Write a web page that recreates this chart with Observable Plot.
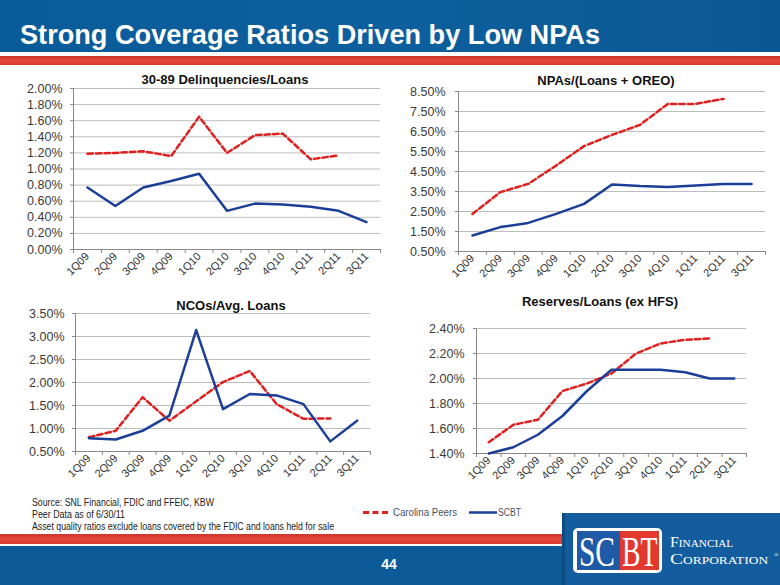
<!DOCTYPE html>
<html><head><meta charset="utf-8">
<script src="https://cdn.jsdelivr.net/npm/d3@7"></script>
<script src="https://cdn.jsdelivr.net/npm/@observablehq/plot@0.6"></script>
<style>
body{margin:0;background:#fff;}
#page{position:relative;width:780px;height:585px;overflow:hidden;font-family:Arial,"Liberation Sans",sans-serif;}
#deco{position:absolute;left:0;top:0;}
.chart{position:absolute;}
</style></head><body>
<div id="page">
<svg id="deco" width="780" height="585" font-family="Arial, 'Liberation Sans', sans-serif">
  <defs>
    <linearGradient id="hdr" x1="0" x2="1" y1="0" y2="0">
      <stop offset="0" stop-color="#0a5b99"/><stop offset="0.5" stop-color="#0d5f9d"/><stop offset="1" stop-color="#0a5893"/>
    </linearGradient>
    <linearGradient id="red" x1="0" x2="0" y1="0" y2="1">
      <stop offset="0" stop-color="#c9352c"/><stop offset="0.5" stop-color="#e5463b"/><stop offset="1" stop-color="#d63a30"/>
    </linearGradient>
  </defs>
  <rect x="0" y="0" width="780" height="52" fill="url(#hdr)"/>
  <rect x="0" y="52" width="780" height="4" fill="#ffffff"/>
  <rect x="0" y="56" width="780" height="9" fill="url(#red)"/>
  <text x="20" y="44" font-size="27" font-weight="bold" fill="#fff" textLength="580" lengthAdjust="spacingAndGlyphs">Strong Coverage Ratios Driven by Low NPAs</text>

  <text x="225" y="84" font-size="13" font-weight="bold" fill="#111" text-anchor="middle">30-89 Delinquencies/Loans</text>
  <text x="606" y="85" font-size="13" font-weight="bold" fill="#111" text-anchor="middle">NPAs/(Loans + OREO)</text>
  <text x="231" y="310" font-size="13" font-weight="bold" fill="#111" text-anchor="middle">NCOs/Avg. Loans</text>
  <text x="600" y="306" font-size="13" font-weight="bold" fill="#111" text-anchor="middle">Reserves/Loans (ex HFS)</text>

  <g font-size="10" fill="#222">
    <text x="32" y="506" textLength="182" lengthAdjust="spacingAndGlyphs">Source: SNL Financial, FDIC and FFEIC, KBW</text>
    <text x="32" y="518" textLength="93" lengthAdjust="spacingAndGlyphs">Peer Data as of 6/30/11</text>
    <text x="32" y="530" textLength="302" lengthAdjust="spacingAndGlyphs">Asset quality ratios exclude loans covered by the FDIC and loans held for sale</text>
  </g>
  <line x1="363" x2="388" y1="512.5" y2="512.5" stroke="#e0201f" stroke-width="3" stroke-dasharray="6,3.5"/>
  <text x="393" y="516" font-size="10.5" fill="#44546a" textLength="64" lengthAdjust="spacingAndGlyphs">Carolina Peers</text>
  <line x1="469" x2="497" y1="512.5" y2="512.5" stroke="#1b3e98" stroke-width="2.5"/>
  <text x="498" y="516" font-size="10.5" fill="#44546a" textLength="23" lengthAdjust="spacingAndGlyphs">SCBT</text>

  <rect x="0" y="534" width="780" height="10" fill="url(#red)"/>
  <rect x="0" y="544" width="780" height="2" fill="#ffffff"/>
  <rect x="0" y="546" width="780" height="39" fill="#0c5a98"/>
  <text x="389" y="569" font-size="14" font-weight="bold" fill="#fff" text-anchor="middle">44</text>

  <rect x="562" y="513" width="218" height="72" fill="#135c9e"/>
  <rect x="562" y="513" width="3" height="72" fill="#0b3f6e" opacity="0.6"/>
  <rect x="573" y="528" width="89" height="45" rx="5" fill="#ffffff"/>
  <rect x="577" y="531" width="43" height="39" fill="#1f5aa6"/>
  <rect x="620" y="531" width="39" height="39" fill="#e2382d"/>
  <g font-family="'Liberation Serif', 'DejaVu Serif', serif" fill="#fff">
    <text transform="translate(579,566) scale(0.7,1)" x="0" y="0" font-size="42">SC</text>
    <text transform="translate(622,566) scale(0.66,1)" x="0" y="0" font-size="42">BT</text>
    <text transform="translate(670,547) scale(1.05,1)" x="0" y="0" font-size="15" style="font-variant:small-caps">Financial</text>
    <text transform="translate(670,564) scale(1.3,1)" x="0" y="0" font-size="15" style="font-variant:small-caps">Corporation</text>
  </g>
  <text x="774" y="557" font-family="'Liberation Serif', serif" font-size="6" fill="#fff">®</text>
</svg>
</div>
<script>
const quarters = ["1Q09","2Q09","3Q09","4Q09","1Q10","2Q10","3Q10","4Q10","1Q11","2Q11","3Q11"];

const delinqPeers = [1.19,1.20,1.22,1.16,1.65,1.20,1.42,1.44,1.12,1.17];
const delinqSCBT  = [0.77,0.54,0.77,0.85,0.94,0.48,0.57,0.56,0.53,0.48,0.34];
const delinqTicks = [0,0.2,0.4,0.6,0.8,1.0,1.2,1.4,1.6,1.8,2.0];

const npaPeers = [2.38,3.47,3.88,4.80,5.77,6.33,6.83,7.88,7.88,8.13];
const npaSCBT  = [1.30,1.72,1.93,2.38,2.88,3.85,3.77,3.73,3.80,3.88,3.88];
const npaTicks = [0.5,1.5,2.5,3.5,4.5,5.5,6.5,7.5,8.5];

const ncoPeers = [0.81,0.95,1.68,1.17,1.59,2.01,2.25,1.53,1.21,1.22];
const ncoSCBT  = [0.79,0.76,0.95,1.28,3.14,1.42,1.75,1.72,1.53,0.72,1.17];
const ncoTicks = [0.5,1.0,1.5,2.0,2.5,3.0,3.5];

const resPeers = [1.49,1.63,1.67,1.90,1.96,2.04,2.20,2.28,2.31,2.32];
const resSCBT  = [1.40,1.45,1.55,1.70,1.90,2.07,2.07,2.07,2.05,2.00,2.00];
const resTicks = [1.4,1.6,1.8,2.0,2.2,2.4];

const RED = "#e0201f", BLUE = "#1b3e98";

function makeChart(cfg) {
  const n = quarters.length;
  const idx = d3.range(n);
  const bounds = d3.range(n + 1).map(i => i - 0.5);
  const peersRows = cfg.peers.map((v, i) => ({i, v}));
  const scbtRows = cfg.scbt.map((v, i) => ({i, v}));
  const fmt = d => d.toFixed(2) + "%";
  const t = cfg.ticks;
  const plot = Plot.plot({
    width: cfg.w, height: cfg.h,
    marginLeft: cfg.ml, marginRight: cfg.mr, marginTop: cfg.mt, marginBottom: cfg.mb,
    style: {background: "transparent", fontFamily: "Arial, 'Liberation Sans', sans-serif", fontSize: "11px", color: "#333", overflow: "visible"},
    x: {domain: [-0.5, n - 0.5], axis: null, label: null},
    y: {domain: [t[0], t[t.length - 1]], axis: null, label: null},
    marks: [
      Plot.ruleY(t, {stroke: "#bdbdbd"}),
      Plot.axisY({ticks: t, tickFormat: fmt, tickSize: 3, tickPadding: cfg.pad, stroke: "#888", fill: "#3a3a3a", fontSize: 12.5, label: null}),
      Plot.axisX({ticks: bounds, tickSize: 4, tickFormat: () => "", stroke: "#888", label: null}),
      Plot.axisX({ticks: idx, tickSize: 0, tickPadding: 5, tickRotate: -45, tickFormat: i => quarters[i], fill: "#333", fontSize: 11, label: null}),
      Plot.ruleX([-0.5], {stroke: "#888"}),
      Plot.ruleY([t[0]], {stroke: "#888"}),
      Plot.line(peersRows, {x: "i", y: "v", stroke: RED, strokeWidth: 2.5, strokeDasharray: "5.5,3"}),
      Plot.line(scbtRows, {x: "i", y: "v", stroke: BLUE, strokeWidth: 2.5})
    ]
  });
  const wrap = document.createElement("div");
  wrap.className = "chart";
  wrap.style.left = cfg.left + "px";
  wrap.style.top = cfg.top + "px";
  wrap.appendChild(plot);
  document.getElementById("page").appendChild(wrap);
}

makeChart({peers: delinqPeers, scbt: delinqSCBT, ticks: delinqTicks, left: 0, top: 70, w: 390, h: 215, ml: 73, mr: 10, mt: 18, mb: 36, pad: 8});
makeChart({peers: npaPeers, scbt: npaSCBT, ticks: npaTicks, left: 390, top: 70, w: 390, h: 215, ml: 68, mr: 15, mt: 21, mb: 34, pad: 10});
makeChart({peers: ncoPeers, scbt: ncoSCBT, ticks: ncoTicks, left: 0, top: 295, w: 390, h: 185, ml: 75, mr: 20, mt: 18, mb: 29, pad: 8});
makeChart({peers: resPeers, scbt: resSCBT, ticks: resTicks, left: 390, top: 295, w: 390, h: 185, ml: 86, mr: 34, mt: 33, mb: 27, pad: 9});
</script>
</body></html>
